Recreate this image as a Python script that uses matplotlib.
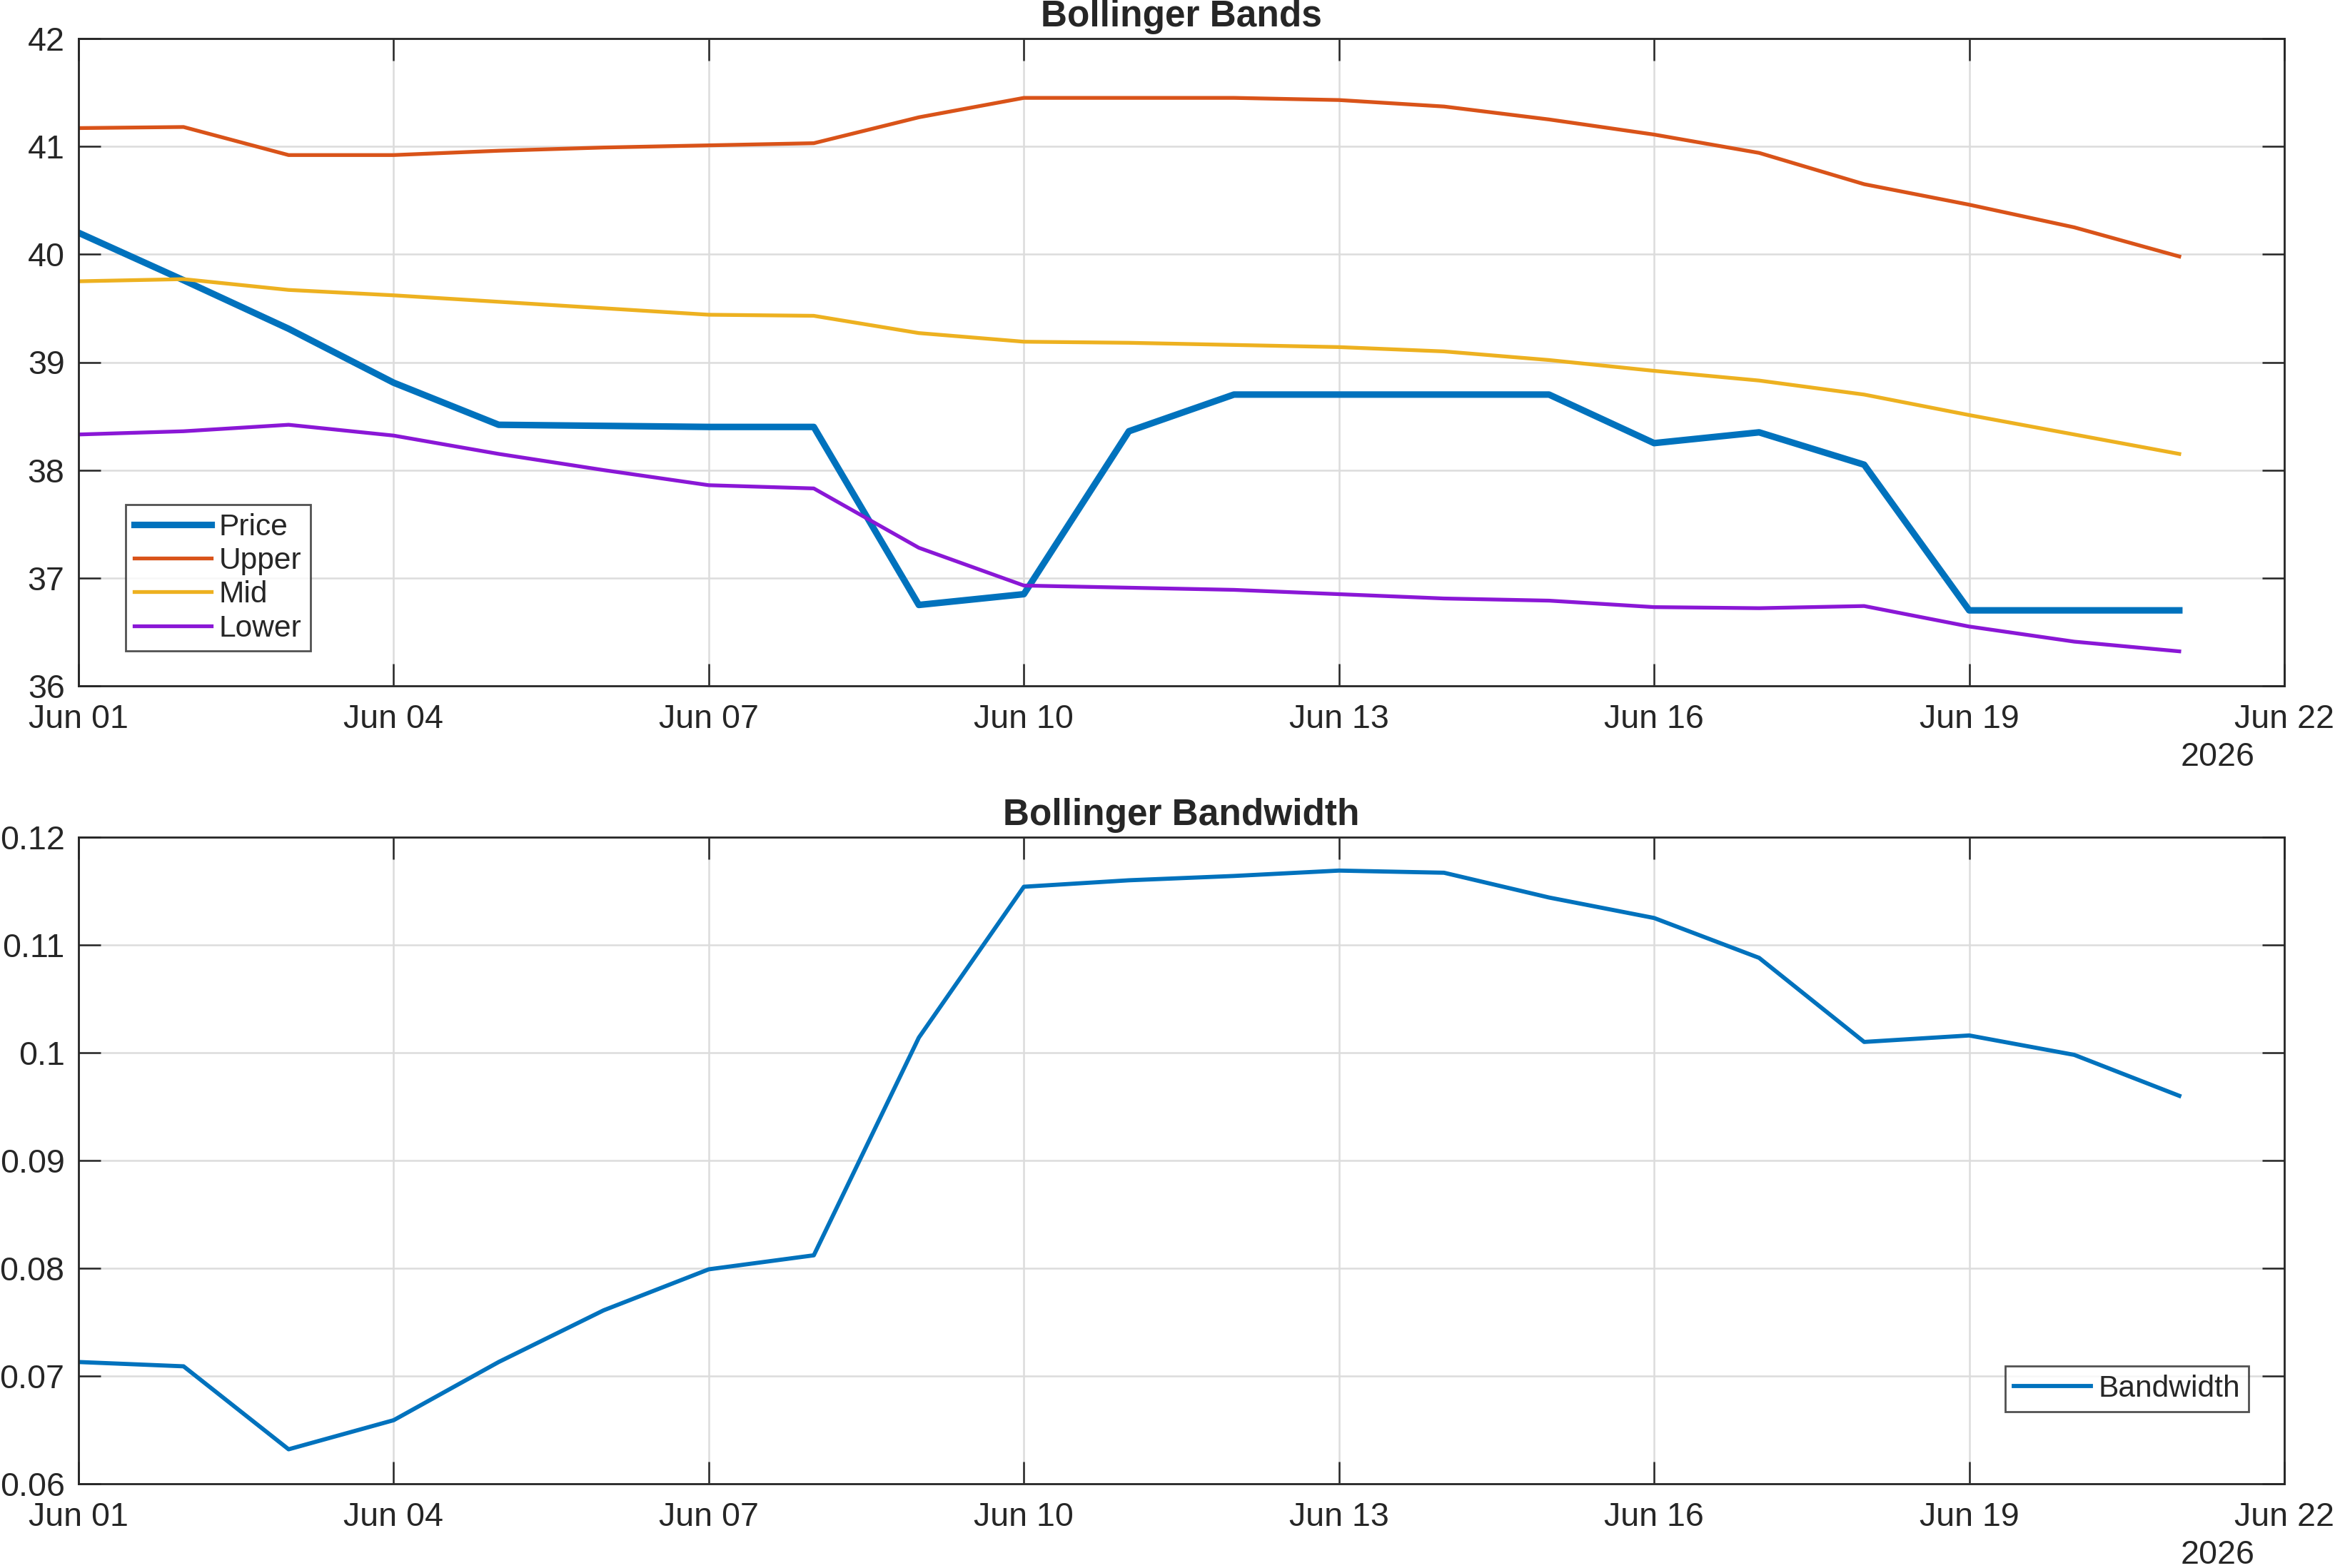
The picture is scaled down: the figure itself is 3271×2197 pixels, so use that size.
import numpy as np
import pandas as pd
import matplotlib
matplotlib.use("Agg")
import matplotlib.pyplot as plt
import matplotlib.dates as mdates
from matplotlib.ticker import FuncFormatter, FixedLocator

plt.rcParams['font.family'] = ['Liberation Sans', 'DejaVu Sans']

dates = pd.date_range("2026-06-01", "2026-06-21", freq="D")

price = [40.20, 39.76, 39.31, 38.81, 38.42, 38.41, 38.40, 38.40, 36.75, 36.85,
         38.36, 38.70, 38.70, 38.70, 38.70, 38.25, 38.35, 38.05, 36.70, 36.70, 36.70]
upper = [41.17, 41.18, 40.92, 40.92, 40.96, 40.99, 41.01, 41.03, 41.27, 41.45,
         41.45, 41.45, 41.43, 41.37, 41.25, 41.11, 40.94, 40.65, 40.46, 40.25, 39.98]
mid = [39.75, 39.77, 39.67, 39.62, 39.56, 39.50, 39.44, 39.43, 39.27, 39.19,
       39.18, 39.16, 39.14, 39.10, 39.02, 38.92, 38.83, 38.70, 38.51, 38.33, 38.15]
lower = [38.33, 38.36, 38.42, 38.32, 38.15, 38.00, 37.86, 37.83, 37.28, 36.93,
         36.91, 36.89, 36.85, 36.81, 36.79, 36.73, 36.72, 36.74, 36.55, 36.41, 36.32]
bandwidth = [0.0713, 0.0709, 0.0632, 0.0659, 0.0713, 0.0761, 0.0799, 0.0812, 0.1014, 0.1154,
             0.1160, 0.1164, 0.1169, 0.1167, 0.1144, 0.1125, 0.1088, 0.1010, 0.1016, 0.0998, 0.0960]

xlim = (pd.Timestamp("2026-06-01"), pd.Timestamp("2026-06-22"))
xtick_dates = pd.date_range("2026-06-01", "2026-06-22", freq="3D")
top_yticks = [36, 37, 38, 39, 40, 41, 42]
bot_yticks = [0.06, 0.07, 0.08, 0.09, 0.10, 0.11, 0.12]

C_BLUE = '#0072BD'
C_ORANGE = '#D95319'
C_YELLOW = '#EDB120'
C_PURPLE = '#8A17D6'
TXT = '#262626'

W, H, DPI = 3271, 2197, 200
fig = plt.figure(figsize=(W / DPI, H / DPI), dpi=DPI)

def px_axes(l, t, r, b):
    return fig.add_axes([l / W, 1 - b / H, (r - l) / W, (b - t) / H])

ax1 = px_axes(110, 54, 3200, 961)
ax2 = px_axes(110, 1173, 3200, 2079)

def style(ax, yticks, title):
    ax.set_xlim(*xlim)
    ax.set_ylim(yticks[0], yticks[-1])
    ax.xaxis.set_major_locator(FixedLocator(mdates.date2num(xtick_dates)))
    ax.xaxis.set_major_formatter(mdates.DateFormatter("%b %d"))
    ax.yaxis.set_major_locator(FixedLocator(yticks))
    ax.yaxis.set_major_formatter(FuncFormatter(lambda v, p: f"{v:g}"))
    ax.grid(True, color='#dcdcdc', linewidth=0.9)
    ax.set_axisbelow(True)
    ax.tick_params(direction='in', length=11, width=0.9, color=TXT,
                   labelsize=16.8, labelcolor=TXT,
                   top=True, right=True)
    ax.tick_params(axis='x', pad=9)
    ax.tick_params(axis='y', pad=7)
    for s in ax.spines.values():
        s.set_color(TXT)
        s.set_linewidth(1.0)
    ax.set_title(title, fontsize=18.5, fontweight='bold', color=TXT, pad=6)
    ax.text(0.9865, -0.086, "2026", transform=ax.transAxes, ha='right', va='top',
            fontsize=16.8, color=TXT)

def make_legend(ax, anchor):
    leg = ax.legend(loc='upper left', bbox_to_anchor=anchor,
                    fontsize=15.3, frameon=True, fancybox=False, borderpad=0.28,
                    handlelength=2.55, handletextpad=0.25, labelspacing=0.17,
                    borderaxespad=0)
    leg.get_frame().set_edgecolor(TXT)
    leg.get_frame().set_linewidth(1.0)
    for t in leg.get_texts():
        t.set_color(TXT)
    return leg

ax1.plot(dates, price, color=C_BLUE, lw=3.3, label='Price')
ax1.plot(dates, upper, color=C_ORANGE, lw=1.9, label='Upper')
ax1.plot(dates, mid, color=C_YELLOW, lw=1.9, label='Mid')
ax1.plot(dates, lower, color=C_PURPLE, lw=1.9, label='Lower')
style(ax1, top_yticks, "Bollinger Bands")
make_legend(ax1, ((176 - 110) / 3090, 1 - (707 - 54) / 907))

ax2.plot(dates, bandwidth, color=C_BLUE, lw=2.1, label='Bandwidth')
style(ax2, bot_yticks, "Bollinger Bandwidth")
make_legend(ax2, ((2809 - 110) / 3090, 1 - (1914 - 1173) / 906))

fig.savefig("out.png", dpi=DPI, facecolor='white')
